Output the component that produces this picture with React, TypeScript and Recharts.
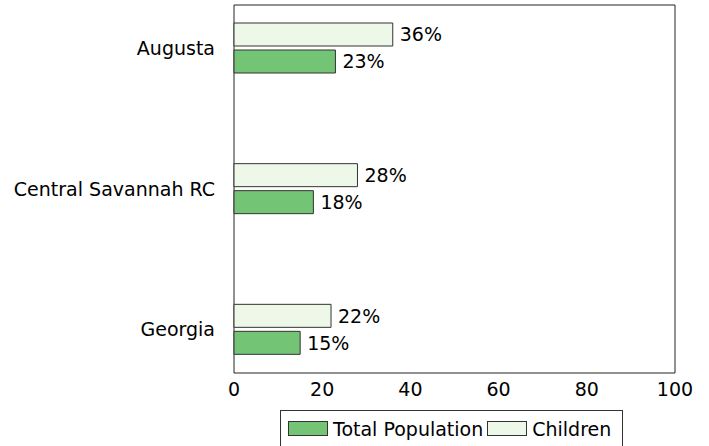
import React from "react";
import { BarChart, Bar, XAxis, YAxis, LabelList, Legend, CartesianGrid } from "recharts";

const regions = ["Augusta", "Central Savannah RC", "Georgia"];
const totalPopulation = [23, 18, 15];
const children = [36, 28, 22];
const xTicks = [0, 20, 40, 60, 80, 100];

const seriesNames = ["Total Population", "Children"];
const seriesColors: Record<string, string> = {
  "Total Population": "#74c476",
  Children: "#edf8e9",
};

const data = regions.map((name, i) => ({
  name,
  total: totalPopulation[i],
  children: children[i],
}));

const font = "'DejaVu Sans', sans-serif";
const fontSize = 19;

const LegendBox = () => (
  <div
    style={{
      display: "flex",
      alignItems: "center",
      height: 36,
      boxSizing: "border-box",
      border: "1px solid #333",
      borderBottom: "none",
      padding: "0 7px",
      fontFamily: font,
      fontSize,
      color: "#000",
    }}
  >
    {seriesNames.map((s) => (
      <span key={s} style={{ display: "flex", alignItems: "center", marginRight: 4 }}>
        <span
          style={{
            display: "inline-block",
            width: 38,
            height: 13,
            background: seriesColors[s],
            border: "1px solid #333",
            marginRight: 5,
          }}
        />
        {s}
      </span>
    ))}
  </div>
);

export default function App() {
  return (
    <div style={{ position: "absolute", left: 0, top: 0, background: "#fff" }}>
      <BarChart
        width={709}
        height={446}
        data={data}
        layout="vertical"
        barSize={23}
        barGap={4}
        margin={{ top: 5, right: 34, bottom: 0, left: 0 }}
      >
        {/* frame around the plot area */}
        <CartesianGrid
          stroke="#222"
          horizontalCoordinatesGenerator={({ offset }: any) => [offset.top, offset.top + offset.height]}
          verticalCoordinatesGenerator={({ offset }: any) => [offset.left, offset.left + offset.width]}
        />
        <XAxis
          type="number"
          domain={[0, 100]}
          ticks={xTicks}
          tickLine={false}
          tickMargin={4}
          axisLine={false}
          height={37}
          tick={{ fill: "#000", fontSize, fontFamily: font }}
        />
        <YAxis
          type="category"
          dataKey="name"
          width={234}
          tickLine={false}
          tickSize={0}
          tickMargin={19}
          padding={{ top: -27, bottom: -27 }}
          axisLine={false}
          tick={{ fill: "#000", fontSize, fontFamily: font }}
        />
        <Legend verticalAlign="bottom" height={36} content={LegendBox} wrapperStyle={{ left: 280, width: "auto" }} />
        <Bar dataKey="children" name="Children" fill={seriesColors.Children} stroke="#333" isAnimationActive={false}>
          <LabelList dataKey="children" position="right" offset={7} formatter={(v: any) => `${v}%`} style={{ fill: "#000", fontSize, fontFamily: font }} />
        </Bar>
        <Bar dataKey="total" name="Total Population" fill={seriesColors["Total Population"]} stroke="#333" isAnimationActive={false}>
          <LabelList dataKey="total" position="right" offset={7} formatter={(v: any) => `${v}%`} style={{ fill: "#000", fontSize, fontFamily: font }} />
        </Bar>
      </BarChart>
    </div>
  );
}
